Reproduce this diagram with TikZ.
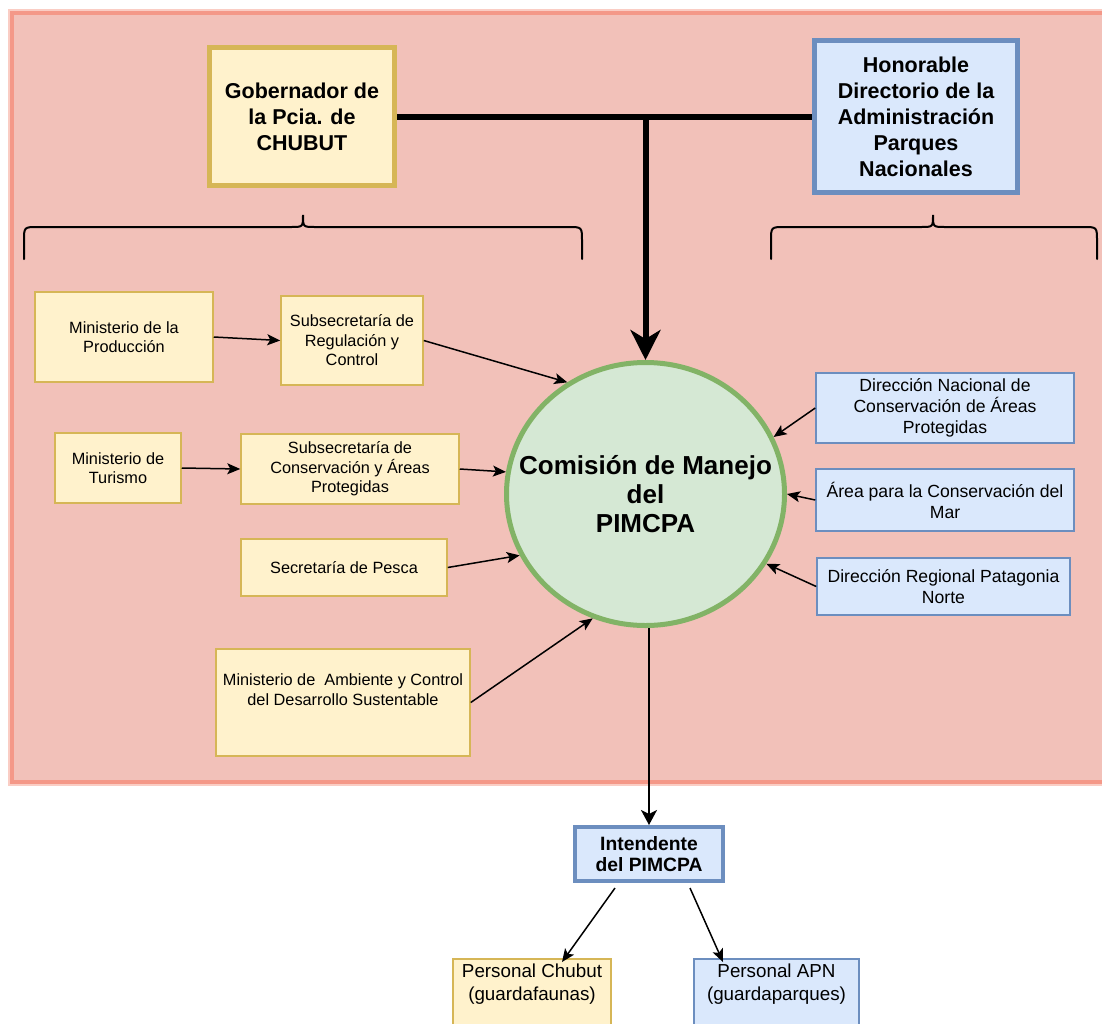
\documentclass[tikz,border=0pt]{standalone}
\usepackage{fontspec}
\setmainfont{Liberation Sans}
\usetikzlibrary{arrows.meta,shapes.geometric}
\definecolor{pinkfill}{RGB}{242,193,185}
\definecolor{pinkbord}{RGB}{244,152,136}
\definecolor{pinkhalo}{RGB}{250,205,196}
\definecolor{yfill}{RGB}{255,242,204}
\definecolor{ybord}{RGB}{214,182,86}
\definecolor{bfill}{RGB}{218,232,252}
\definecolor{bbord}{RGB}{108,142,191}
\definecolor{gfill}{RGB}{213,232,212}
\definecolor{gbord}{RGB}{130,179,102}
\tikzset{
  ybox/.style={draw=ybord, fill=yfill, line width=1.5pt, inner sep=2pt, align=center, font=\fontsize{16.3}{19.5}\selectfont},
  bbox/.style={draw=bbord, fill=bfill, line width=1.5pt, inner sep=2pt, align=center, font=\fontsize{17.6}{21}\selectfont},
  bigy/.style={draw=ybord, fill=yfill, line width=5pt, inner sep=2pt, align=center, font=\bfseries\fontsize{21.5}{26}\selectfont},
  bigb/.style={draw=bbord, fill=bfill, line width=5pt, inner sep=2pt, align=center, font=\bfseries\fontsize{21.5}{26}\selectfont},
  arr/.style={line width=1.5pt, -{Stealth[length=13pt, width=11pt, inset=3pt]}},
  brace/.style={line width=2pt, line cap=round},
}
\begin{document}
\begin{tikzpicture}[x=1pt,y=-1pt]
\useasboundingbox (0,0) rectangle (1102,1023);
% background area
\draw[pinkhalo, line width=8pt] (12,13) rectangle (1120,782);
\draw[pinkbord, fill=pinkfill, line width=4pt] (12,13) rectangle (1120,782);

% top level
\node[bigy, minimum width=185pt, minimum height=138pt] (gob) at (302,116.5) {Gobernador de\\la Pcia. de\\CHUBUT};
\node[bigb, minimum width=203pt, minimum height=152pt] (hon) at (916,116.5) {Honorable\\Directorio de la\\Administración\\Parques\\Nacionales};

% central ellipse
\node[ellipse, draw=gbord, fill=gfill, line width=5pt, minimum width=278pt, minimum height=263pt, inner xsep=-45pt, inner ysep=0pt, align=center, font=\bfseries\fontsize{26}{29}\selectfont] (com) at (645.5,494) {Comisión de Manejo\\del\\PIMCPA};

% braces
\draw[brace] (24,259) -- (24,241) .. controls (24,227) .. (38,227) -- (291,227) .. controls (303,227) .. (303,215) .. controls (303,227) .. (315,227) -- (568,227) .. controls (582,227) .. (582,241) -- (582,259);
\draw[brace] (771,259) -- (771,241) .. controls (771,227) .. (785,227) -- (921,227) .. controls (933,227) .. (933,215) .. controls (933,227) .. (945,227) -- (1083,227) .. controls (1097,227) .. (1097,241) -- (1097,259);

% left boxes
\node[ybox, minimum width=178pt, minimum height=90pt] (prod) at (124,337) {Ministerio de la\\Producción};
\node[ybox, minimum width=142pt, minimum height=89pt] (subreg) at (352,340.5) {Subsecretaría de\\Regulación y\\Control};
\node[ybox, minimum width=126pt, minimum height=70pt] (tur) at (118,468) {Ministerio de\\Turismo};
\node[ybox, minimum width=218pt, minimum height=70pt] (subcons) at (350,469) {Subsecretaría de\\Conservación y Áreas\\Protegidas};
\node[ybox, minimum width=206pt, minimum height=57pt] (pesca) at (344,567.5) {Secretaría de Pesca};
\node[ybox, minimum width=254pt, minimum height=107pt] (amb) at (343,702.5) {Ministerio de\ \ Ambiente y Control\\del Desarrollo Sustentable\\\strut};

% right boxes
\node[bbox, minimum width=258pt, minimum height=70pt] (dirnac) at (945,408) {Dirección Nacional de\\Conservación de Áreas\\Protegidas};
\node[bbox, minimum width=258pt, minimum height=62pt] (area) at (945,500) {Área para la Conservación del\\Mar};
\node[bbox, minimum width=253pt, minimum height=57pt] (dirreg) at (943.5,586.5) {Dirección Regional Patagonia\\Norte};

% bottom
\node[draw=bbord, fill=bfill, line width=4pt, minimum width=148pt, minimum height=54pt, inner sep=2pt, align=center, font=\bfseries\fontsize{19.3}{21}\selectfont] (int) at (649,854) {Intendente\\del PIMCPA};
\node[draw=ybord, fill=yfill, line width=1.5pt, minimum width=158pt, minimum height=80pt, anchor=north,
  label={[anchor=north, yshift=-2pt, align=center, font=\fontsize{18.8}{23}\selectfont]north:Personal Chubut\\(guardafaunas)}] (pc) at (532,958) {};
\node[draw=bbord, fill=bfill, line width=1.5pt, minimum width=165pt, minimum height=80pt, anchor=north,
  label={[anchor=north, yshift=-2pt, align=center, font=\fontsize{18.8}{23}\selectfont]north:Personal APN\\(guardaparques)}] (papn) at (776.5,958) {};

% connectors
\draw[line width=6pt] (gob.east) -- (hon.west);
\draw[line width=6pt, -{Stealth[length=30pt, width=30pt, inset=9pt]}] (gob.east -| com.north) -- (com.north);
\draw[arr] (prod.east) -- (subreg.west);
\draw[arr] (subreg.east) -- (com.125.7);
\draw[arr] (tur.east) -- (subcons.west);
\draw[arr] (subcons.east) -- (com.171.8);
\draw[arr] (pesca.east) -- (com.206.7);
\draw[arr] (amb.east) -- (com.247.6);
\draw[arr] (dirnac.west) -- (com.24.9);
\draw[arr] (area.west) -- (com.0.8);
\draw[arr] (dirreg.west) -- (com.-30.4);
\draw[line width=2pt, -{Stealth[length=15pt, width=16pt, inset=4pt]}] (com.south -| int.north) -- (int.north);
\draw[arr] ([xshift=-34pt, yshift=-5pt]int.south) -- ([xshift=30pt, yshift=-4pt]pc.north);
\draw[arr] ([xshift=41pt, yshift=-5pt]int.south) -- ([xshift=-53.5pt, yshift=-4pt]papn.north);
\end{tikzpicture}
\end{document}
